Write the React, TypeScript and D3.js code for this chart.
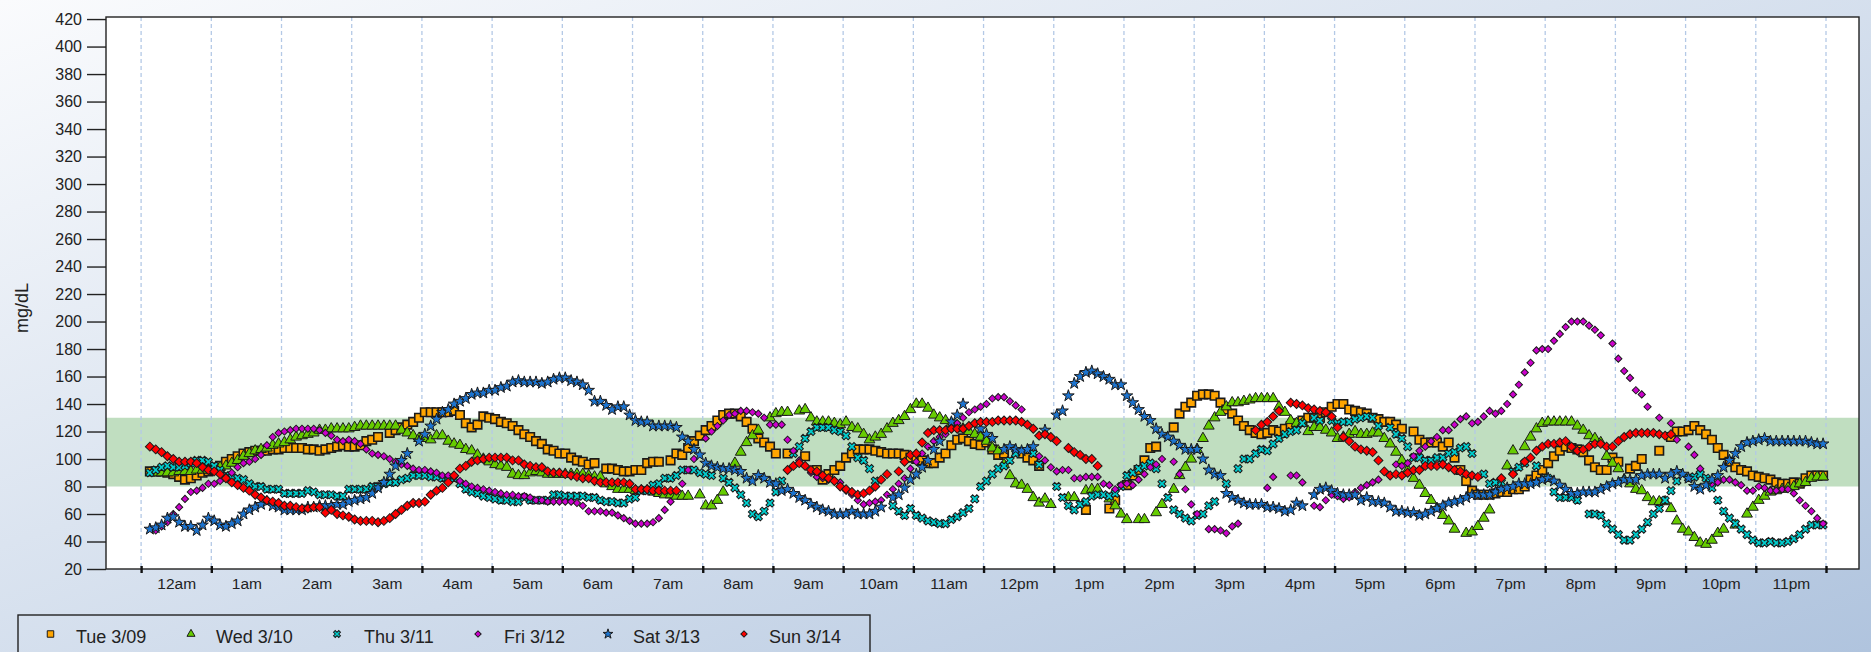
import { useRef, useEffect } from 'react';
import * as d3 from 'd3';

const _ = null;

// one reading per 5 minutes, 12 per row = one hour
const tue = [
  _,91,91,91,90,89,87,85,86,88,90,91,
  92,95,98,100,102,104,105,106,106,106,107,107,
  108,108,108,108,107,107,106,107,108,109,110,109,
  109,110,113,114,116,_,119,121,123,125,127,130,
  134,134,134,134,134,135,132,126,123,125,131,130,
  129,127,126,124,121,118,116,113,111,107,106,104,
  104,101,99,98,96,97,_,93,93,92,91,91,
  92,92,97,98,98,_,99,104,103,108,113,117,
  121,124,128,132,133,133,131,127,122,115,112,109,
  104,_,104,_,_,102,_,92,85,89,92,95,
  101,104,107,107,107,106,105,104,104,104,103,101,
  100,99,97,97,101,104,110,114,115,113,111,110,
  112,107,103,104,_,_,104,101,99,95,_,_,
  _,_,_,_,_,63,_,_,_,64,70,_,
  81,88,92,99,108,109,_,_,123,133,138,141,
  146,147,147,146,141,136,133,128,124,121,119,118,
  119,121,120,122,124,126,128,130,130,130,134,138,
  140,140,136,135,134,133,130,129,127,127,125,122,
  _,120,114,112,112,112,109,112,101,92,84,77,
  74,74,74,75,76,76,78,78,80,85,88,92,
  97,102,106,109,108,107,105,99,94,92,92,101,
  98,_,93,95,100,_,_,106,_,116,120,120,
  121,124,121,118,114,108,103,98,94,92,91,88,
  87,86,85,83,82,82,83,82,86,88,88,88,
];
const wed = [
  _,_,90,90,90,90,91,91,91,92,92,92,
  93,94,95,97,99,102,104,106,107,108,110,111,
  112,114,116,117,118,119,121,121,122,122,122,122,
  123,124,124,124,124,124,124,124,121,119,117,115,
  115,114,117,117,113,111,110,107,106,103,100,98,
  96,95,94,89,88,88,90,91,90,89,89,89,
  89,89,89,89,88,87,87,82,80,78,78,78,
  77,77,77,76,75,74,74,73,73,73,_,74,
  66,66,70,76,_,97,105,112,117,121,_,130,
  133,134,134,_,135,136,130,127,127,127,126,125,
  127,123,122,118,114,116,118,122,126,128,131,136,
  140,140,137,132,130,128,126,124,122,120,118,116,
  113,108,106,96,88,82,81,78,72,68,71,67,
  _,_,72,72,_,77,78,78,_,71,66,60,
  56,_,56,56,_,61,67,_,78,88,94,100,
  107,115,124,130,134,138,141,141,142,143,144,144,
  144,144,138,134,128,126,126,120,123,123,121,119,
  115,116,118,120,118,118,119,119,115,111,105,99,
  92,86,81,75,70,64,59,55,49,_,46,47,
  51,57,63,_,_,95,106,_,109,116,122,126,
  127,127,127,127,127,124,121,117,115,112,102,97,
  93,85,82,78,77,72,69,69,69,64,55,49,
  47,43,39,38,41,46,49,_,52,_,60,65,
  70,73,76,77,78,79,80,82,83,86,87,87,
];
const thu = [
  _,90,92,94,95,94,94,95,97,99,99,98,
  95,92,88,86,86,85,82,80,80,78,78,78,
  75,75,75,75,77,76,74,74,74,73,73,78,
  78,78,78,80,80,82,83,83,85,86,88,88,
  88,87,87,86,86,86,82,78,76,75,73,72,
  71,70,70,69,69,72,70,70,70,70,74,74,
  73,73,73,73,72,72,70,69,69,68,68,71,
  72,77,77,81,82,86,86,88,92,92,92,90,
  89,88,_,86,83,79,74,68,60,58,62,68,
  76,84,_,104,109,115,120,123,123,123,121,120,
  117,109,101,99,93,84,_,_,66,62,59,64,
  59,57,55,54,53,53,56,58,61,64,71,80,
  84,89,93,95,99,104,_,_,104,96,_,_,
  80,72,66,63,67,69,73,74,74,73,75,80,
  88,90,93,95,97,93,82,72,63,60,57,55,
  59,60,66,69,_,82,_,93,100,100,104,107,
  106,111,115,118,120,121,126,_,130,128,_,128,
  126,127,127,129,130,131,130,124,_,123,118,115,
  109,101,101,99,99,101,101,104,105,108,109,104,
  _,89,82,83,83,_,91,94,97,_,95,_,
  86,76,72,72,72,70,_,60,60,59,53,49,
  45,41,41,45,49,54,60,64,70,77,84,_,
  86,87,89,86,79,70,62,57,53,49,45,41,
  39,39,40,39,39,40,42,45,49,52,52,52,
];
const fri = [
  _,_,48,51,54,60,65,71,76,77,79,82,
  82,84,87,90,94,97,98,100,103,110,116,119,
  120,121,122,122,122,122,121,119,117,114,113,114,
  113,111,107,104,103,102,100,98,96,95,93,92,
  92,91,90,88,88,87,84,82,80,79,78,77,
  76,75,74,74,73,73,72,70,70,69,69,69,
  69,69,68,66,62,62,62,61,61,59,57,55,
  53,53,53,54,57,63,69,_,82,92,100,_,
  115,120,124,128,132,133,135,135,134,133,130,125,
  125,125,114,106,99,95,90,87,86,85,84,83,
  77,74,70,67,68,69,70,74,78,82,86,93,
  98,104,109,113,116,118,122,126,130,134,136,138,
  140,144,145,145,142,139,136,_,_,102,99,94,
  91,92,92,86,86,87,87,87,82,81,78,81,
  82,81,85,89,94,96,100,_,98,89,78,67,
  60,_,49,49,48,46,51,53,_,_,_,_,
  79,87,_,_,88,88,83,_,66,65,70,74,
  73,71,72,76,79,81,83,85,_,_,96,95,
  97,102,106,109,113,116,121,121,125,129,131,126,
  127,131,135,133,135,140,147,154,163,170,179,180,
  180,186,191,196,200,200,200,197,194,190,_,184,
  173,164,159,150,147,138,_,130,_,126,114,_,
  109,103,93,_,82,83,85,85,83,81,77,77,
  80,79,77,77,78,78,75,70,66,62,57,53,
];
const sat = [
  _,49,50,52,57,58,54,51,51,48,52,57,
  55,52,51,53,55,60,63,65,67,69,66,65,
  63,63,63,63,65,65,66,66,66,67,67,69,
  70,71,72,75,79,83,89,95,99,104,_,113,
  118,124,129,134,136,140,142,144,147,148,148,150,
  150,152,153,156,157,156,156,156,155,156,158,159,
  159,157,156,154,150,142,142,139,136,138,138,132,
  128,127,127,124,124,124,124,123,116,113,107,103,
  97,95,94,93,93,92,91,86,84,88,86,83,
  82,77,78,75,72,70,67,65,63,62,60,60,
  60,62,60,60,60,62,65,_,72,74,79,85,
  89,94,99,107,113,_,127,132,140,_,_,122,
  118,115,_,107,109,107,106,107,109,_,121,_,
  132,135,146,155,160,163,164,162,160,158,154,154,
  146,141,136,131,128,122,118,116,113,110,107,107,
  107,100,92,89,88,75,72,70,68,67,67,67,
  65,65,64,62,63,68,66,_,74,78,79,77,
  75,74,74,74,70,72,69,69,68,65,62,62,
  61,61,59,60,62,64,66,68,69,70,72,74,
  74,74,74,76,78,79,80,82,82,82,83,85,
  86,84,81,78,75,75,76,76,76,78,80,82,
  83,85,85,85,88,89,89,89,86,89,91,89,
  86,80,78,81,85,88,94,99,104,109,112,113,
  114,115,113,113,113,113,113,113,113,112,111,111,
];
const sun = [
  _,109,107,105,102,100,98,98,98,97,94,92,
  91,89,86,83,81,79,77,74,72,70,69,68,
  66,66,65,64,64,65,65,61,63,60,59,58,
  56,55,55,55,54,55,57,60,63,66,68,68,
  69,74,77,79,83,88,93,95,98,99,100,101,
  101,101,101,99,99,96,95,94,94,91,90,90,
  89,88,87,86,86,84,83,83,83,83,83,82,
  78,78,78,77,77,77,77,77,_,_,_,_,
  _,_,_,_,_,_,_,_,_,_,_,_,
  _,_,92,95,97,95,92,91,88,86,84,80,
  78,76,74,75,77,80,85,89,_,91,98,103,
  104,112,119,121,121,121,122,122,122,124,126,127,
  127,127,128,128,128,128,127,125,122,117,118,116,
  113,_,108,105,103,100,100,95,_,_,_,_,
  _,_,_,_,_,_,_,_,_,_,_,_,
  _,_,_,_,_,_,_,_,_,_,121,125,
  127,131,135,_,141,140,139,137,136,135,134,131,
  123,116,113,109,107,106,105,99,91,88,89,88,
  90,92,92,95,95,95,96,94,92,91,89,88,
  87,_,_,_,86,_,89,_,98,101,106,109,
  111,111,112,113,109,106,107,109,111,111,109,109,
  113,116,118,119,119,119,119,118,117,118,_,_,
  _,_,_,_,_,_,_,_,_,_,_,_,
  _,_,_,_,_,_,_,_,_,_,_,_,
];

const hourLabels = ['12am','1am','2am','3am','4am','5am','6am','7am','8am','9am','10am','11am','12pm','1pm','2pm','3pm','4pm','5pm','6pm','7pm','8pm','9pm','10pm','11pm'];
const yTicks = d3.range(20, 421, 20);
const targetRange = [80, 130];

const W = 1871;
const H = 652;
const plot = { left: 106, right: 1859, top: 17, bottom: 569 };

const seriesDefs = [
  { name: 'Tue 3/09', values: tue, type: d3.symbolSquare, size: 72, sizeLegend: 42, rotate: 0, fill: '#ffa500', legendX: 50.5, textX: 76 },
  { name: 'Wed 3/10', values: wed, type: d3.symbolTriangle, size: 50, sizeLegend: 28, rotate: 0, fill: '#66cc00', legendX: 191, textX: 216 },
  { name: 'Thu 3/11', values: thu, type: d3.symbolCross, size: 42, sizeLegend: 30, rotate: 45, fill: '#00cccc', legendX: 337, textX: 364 },
  { name: 'Fri 3/12', values: fri, type: d3.symbolSquare, size: 26, sizeLegend: 20, rotate: 45, fill: '#cc00cc', legendX: 478, textX: 504 },
  { name: 'Sat 3/13', values: sat, type: d3.symbolStar, size: 42, sizeLegend: 30, rotate: 0, fill: '#1c74d0', legendX: 608, textX: 633 },
  { name: 'Sun 3/14', values: sun, type: d3.symbolSquare, size: 40, sizeLegend: 20, rotate: 45, fill: '#ff0000', legendX: 744, textX: 769 },
];

const FONT = '"Liberation Sans", Arial, sans-serif';

export default function App() {
  const svgRef = useRef<SVGSVGElement>(null);

  useEffect(() => {
    if (!svgRef.current) return;
    const svg = d3.select(svgRef.current);
    svg.selectAll('*').remove();

    const defs = svg.append('defs');
    const grad = defs
      .append('linearGradient')
      .attr('id', 'bg')
      .attr('x1', 0).attr('y1', 0)
      .attr('x2', 1).attr('y2', 1);
    grad.append('stop').attr('offset', '0%').attr('stop-color', '#fafbfd');
    grad.append('stop').attr('offset', '100%').attr('stop-color', '#b0c4de');

    svg.append('rect').attr('width', W).attr('height', H).attr('fill', 'url(#bg)');

    // hours, half an hour of padding on the left
    const x = d3.scaleLinear().domain([-0.5, 24.47]).range([plot.left, plot.right]);
    const y = d3.scaleLinear().domain([20, 421.5]).range([plot.bottom, plot.top]);

    svg.append('rect')
      .attr('x', plot.left).attr('y', plot.top)
      .attr('width', plot.right - plot.left).attr('height', plot.bottom - plot.top)
      .attr('fill', '#fff');

    // target band
    svg.append('rect')
      .attr('x', plot.left).attr('y', y(targetRange[1]))
      .attr('width', plot.right - plot.left)
      .attr('height', y(targetRange[0]) - y(targetRange[1]))
      .attr('fill', '#c0dec0');

    // hour grid
    svg.append('g').selectAll('line')
      .data(d3.range(0, 25))
      .join('line')
      .attr('x1', (d) => x(d)).attr('x2', (d) => x(d))
      .attr('y1', plot.top).attr('y2', plot.bottom)
      .attr('stroke', '#b4c9e6')
      .attr('stroke-width', 1.3)
      .attr('stroke-dasharray', '4,3');

    // plot border
    svg.append('rect')
      .attr('x', plot.left).attr('y', plot.top)
      .attr('width', plot.right - plot.left).attr('height', plot.bottom - plot.top)
      .attr('fill', 'none')
      .attr('stroke', '#222')
      .attr('stroke-width', 1.4);

    const yAxis = svg.append('g')
      .attr('transform', `translate(${plot.left},0)`)
      .call(d3.axisLeft(y).tickValues(yTicks).tickSize(19).tickPadding(5));
    const xTicks = svg.append('g')
      .attr('transform', `translate(0,${plot.bottom})`)
      .call(d3.axisBottom(x).tickValues(d3.range(0, 25)).tickSize(4).tickFormat(() => ''));
    const xLabels = svg.append('g')
      .attr('transform', `translate(0,${plot.bottom})`)
      .call(
        d3.axisBottom(x)
          .tickValues(hourLabels.map((_l, i) => i + 0.5))
          .tickSize(0)
          .tickPadding(9)
          .tickFormat((_d, i) => hourLabels[i]),
      );
    [yAxis, xTicks, xLabels].forEach((a) => {
      a.select('.domain').remove();
      a.selectAll('text')
        .attr('font-family', FONT)
        .attr('font-size', 16)
        .attr('fill', '#222');
    });
    xLabels.selectAll('text').attr('font-size', 15.5);
    yAxis.selectAll('line').attr('stroke', '#222').attr('stroke-width', 1.4);
    xTicks.selectAll('line').attr('stroke', '#111').attr('stroke-width', 2.4).attr('y1', -3);

    svg.append('text')
      .attr('transform', `translate(28,${(plot.top + plot.bottom) / 2 + 15}) rotate(-90)`)
      .attr('text-anchor', 'middle')
      .attr('font-family', FONT)
      .attr('font-size', 18)
      .attr('fill', '#222')
      .text('mg/dL');

    // markers, one group per day, Sunday on top
    seriesDefs.forEach((s) => {
      const pts = s.values
        .map((v, i) => ({ v, i }))
        .filter((d) => d.v !== null) as { v: number; i: number }[];
      svg.append('g')
        .selectAll('path')
        .data(pts)
        .join('path')
        .attr('d', d3.symbol().type(s.type).size(s.size)())
        .attr('transform', (d) => `translate(${x((d.i + 0.5) / 12)},${y(d.v)}) rotate(${s.rotate})`)
        .attr('fill', s.fill)
        .attr('stroke', '#1a1a1a')
        .attr('stroke-width', s.size > 50 ? 1.6 : 1);
    });

    // legend
    const legend = svg.append('g');
    legend.append('rect')
      .attr('x', 18).attr('y', 615)
      .attr('width', 852).attr('height', 45)
      .attr('fill', 'none')
      .attr('stroke', '#222')
      .attr('stroke-width', 1.4);
    seriesDefs.forEach((s) => {
      legend.append('path')
        .attr('d', d3.symbol().type(s.type).size(s.sizeLegend)())
        .attr('transform', `translate(${s.legendX},634) rotate(${s.rotate})`)
        .attr('fill', s.fill)
        .attr('stroke', '#1a1a1a')
        .attr('stroke-width', 1);
      legend.append('text')
        .attr('x', s.textX).attr('y', 642.5)
        .attr('font-family', FONT)
        .attr('font-size', 18)
        .attr('fill', '#222')
        .text(s.name);
    });
  }, []);

  return (
    <svg
      ref={svgRef}
      width={W}
      height={H}
      style={{ position: 'absolute', left: 0, top: 0, display: 'block' }}
    />
  );
}
